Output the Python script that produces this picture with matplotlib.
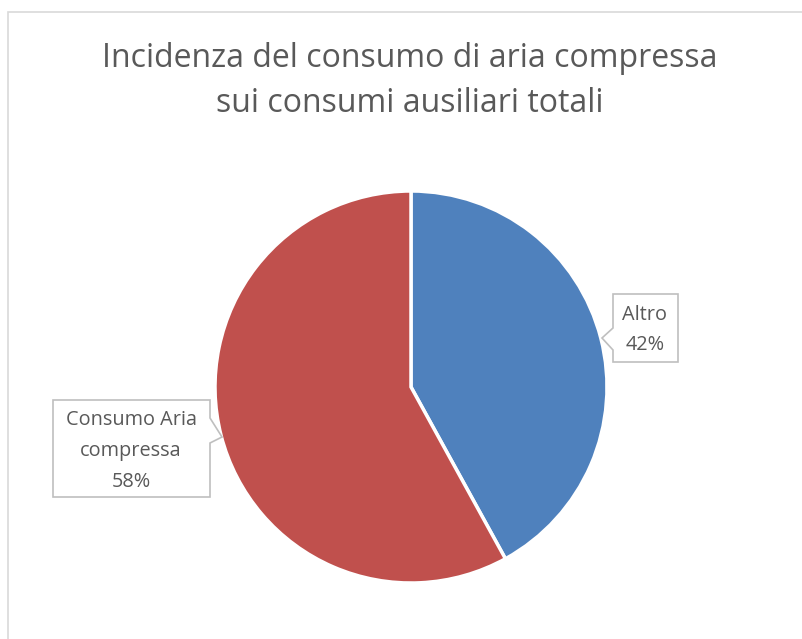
import matplotlib.pyplot as plt
from matplotlib.patches import Polygon, Rectangle

# chart data
categories = ["Altro", "Consumo Aria\ncompressa"]
shares = [42, 58]
colors = ["#4F81BD", "#C0504D"]
title = "Incidenza del consumo di aria compressa\nsui consumi ausiliari totali"

W, H = 803, 639
TEXT = "#595959"
plt.rcParams["font.family"] = ["Open Sans", "DejaVu Sans"]


def px(x, y):
    # pixel coords (top-left origin) -> figure fraction
    return x / W, 1 - y / H


fig = plt.figure(figsize=(W / 100, H / 100), dpi=100)

# outer chart border (right/bottom edges fall outside the image)
fig.patches.append(Rectangle(px(8, 700), 900 / W, (700 - 12) / H, transform=fig.transFigure,
                             fill=False, edgecolor="#D9D9D9", linewidth=1.2))

cx, cy, r = 411, 387, 196
ax = fig.add_axes([(cx - r) / W, (H - cy - r) / H, 2 * r / W, 2 * r / H])
ax.pie(shares, colors=colors, startangle=90, counterclock=False,
       wedgeprops=dict(edgecolor="white", linewidth=2.5))
ax.set_xlim(-1, 1)
ax.set_ylim(-1, 1)
ax.set_aspect("auto")
ax.axis("off")

fig.text(*px(410, 81), title, ha="center", va="center", fontsize=23,
         color=TEXT, linespacing=1.45)

# callout boxes
callouts = [
    [(613, 294), (678, 294), (678, 362), (613, 362), (613, 350), (602, 338), (613, 328)],
    [(53, 400), (210, 400), (210, 418), (222, 437), (210, 443), (210, 497), (53, 497)],
]
label_pos = [(645, 330), (131, 451)]
for pts, (lx, ly), cat, val in zip(callouts, label_pos, categories, shares):
    fig.patches.append(Polygon([px(*p) for p in pts], closed=True, transform=fig.transFigure,
                               facecolor="white", edgecolor="#BFBFBF", linewidth=1.2))
    fig.text(*px(lx, ly), f"{cat}\n{val}%", ha="center", va="center", fontsize=14.3,
             color=TEXT, linespacing=1.72)

fig.savefig("out.png", dpi=100)
